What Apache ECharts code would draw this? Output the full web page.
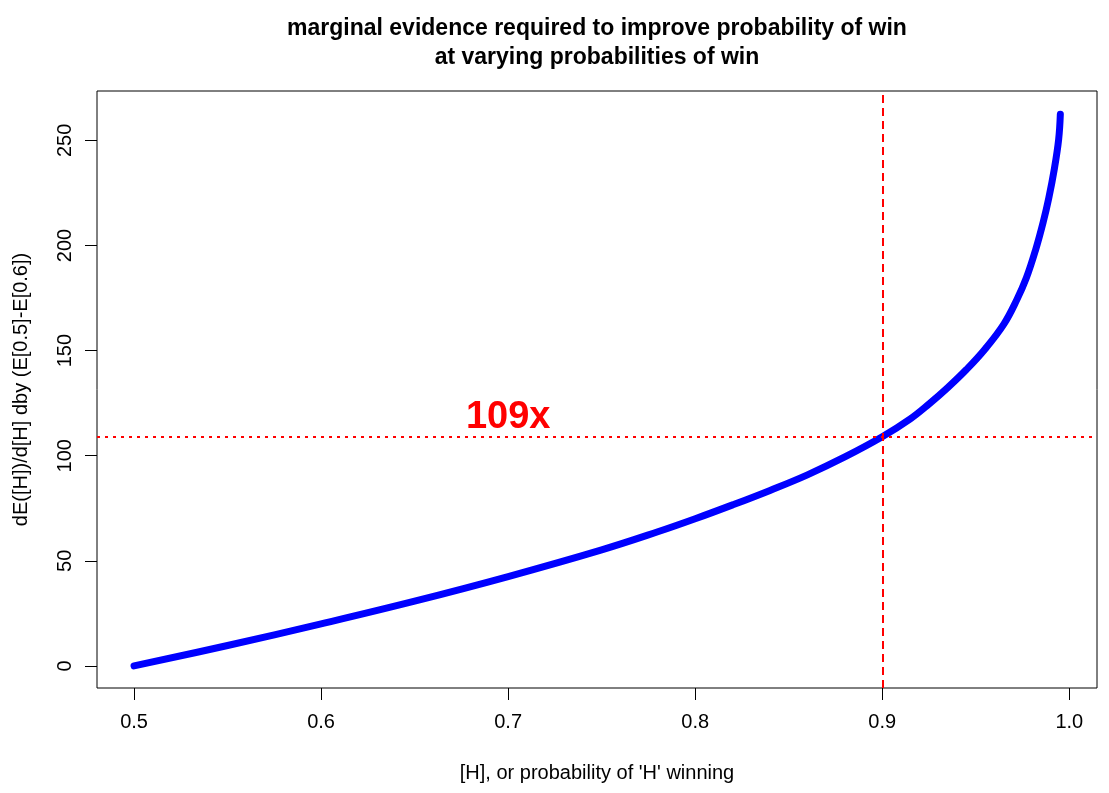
<!DOCTYPE html>
<html><head><meta charset="utf-8">
<script src="https://cdn.jsdelivr.net/npm/echarts@6/dist/echarts.min.js"></script>
<style>html,body{margin:0;padding:0;background:#fff}#c{width:1109px;height:793px}</style>
</head><body><div id="c"></div>
<script>
// Data
const probWin = [0.50, 0.55, 0.60, 0.65, 0.70, 0.75, 0.78, 0.80, 0.82, 0.84, 0.86, 0.88, 0.90, 0.915, 0.925, 0.935, 0.945, 0.955, 0.965, 0.972, 0.977, 0.982, 0.986, 0.989, 0.992, 0.9943, 0.9952];
const evidenceRatio = [0, 9.7, 20.0, 30.8, 42.5, 55.2, 63.8, 70.0, 76.6, 83.5, 90.9, 99.4, 109, 117.5, 124.6, 132.4, 141.0, 150.8, 162.6, 174.3, 184.5, 198.0, 211.0, 222.5, 236.5, 250.5, 262.5];
const xTicks = [0.5, 0.6, 0.7, 0.8, 0.9, 1.0];
const yTicks = [0, 50, 100, 150, 200, 250];
const refX = [0.9];
const refY = [109];
const annotation = [{ x: 0.7, y: 118, text: '109x' }];
const titleLines = ['marginal evidence required to improve probability of win', 'at varying probabilities of win'];
const xName = "[H], or probability of 'H' winning";
const yName = 'dE([H])/d[H] dby (E[0.5]-E[0.6])';

const FONT = 'Liberation Sans, Arial, sans-serif';
const chart = echarts.init(document.getElementById('c'), null, { renderer: 'canvas' });

const lineData = probWin.map((p, i) => [p, evidenceRatio[i]]);

chart.setOption({
  animation: false,
  backgroundColor: '#fff',
  grid: { left: 97, right: 12, top: 91, bottom: 105, show: true, borderColor: '#000', borderWidth: 1, backgroundColor: 'transparent' },
  graphic: titleLines.map((t, i) => ({
    type: 'text', x: 597, y: 29 + i * 29,
    style: { text: t, x: 0, y: 0, align: 'center', verticalAlign: 'middle', font: 'bold 23px ' + FONT, fill: '#000' }
  })),
  xAxis: {
    type: 'value', min: 0.4802, max: 1.0148,
    name: xName, nameLocation: 'middle', nameGap: 75,
    nameTextStyle: { fontSize: 20, color: '#000', fontFamily: FONT },
    axisLine: { show: false, onZero: false },
    splitLine: { show: false },
    axisTick: { show: true, customValues: xTicks, length: 12, lineStyle: { color: '#000', width: 1 } },
    axisLabel: { customValues: xTicks, formatter: v => v.toFixed(1), fontSize: 20, color: '#000', fontFamily: FONT, margin: 24 }
  },
  yAxis: {
    type: 'value', min: -10.52, max: 273.52,
    name: yName, nameLocation: 'middle', nameGap: 66,
    nameTextStyle: { fontSize: 20, color: '#000', fontFamily: FONT },
    axisLine: { show: false, onZero: false },
    splitLine: { show: false },
    axisTick: { show: true, customValues: yTicks, length: 12, lineStyle: { color: '#000', width: 1 } },
    axisLabel: { customValues: yTicks, rotate: 90, fontSize: 20, color: '#000', fontFamily: FONT, margin: 22 }
  },
  series: [
    {
      type: 'line', data: lineData, smooth: 0.4, showSymbol: false, symbol: 'none',
      lineStyle: { color: '#0000FF', width: 7, cap: 'round', join: 'round' },
      z: 3,
      markLine: {
        silent: true, symbol: 'none', animation: false,
        label: { show: false },
        data: [
          ...refX.map(v => ({ xAxis: v, lineStyle: { color: '#FF0000', width: 2, type: [8, 5] } })),
          ...refY.map(v => ({ yAxis: v, lineStyle: { color: '#FF0000', width: 2, type: [3, 5] } }))
        ]
      }
    },
    {
      type: 'scatter', symbolSize: 0, z: 5,
      itemStyle: { opacity: 1 },
      data: annotation.map(a => ({ value: [a.x, a.y], name: a.text })),
      label: { show: true, position: 'inside', formatter: p => p.name, color: '#FF0000', opacity: 1, fontWeight: 'bold', fontSize: 38, fontFamily: FONT }
    }
  ]
});
</script></body></html>
